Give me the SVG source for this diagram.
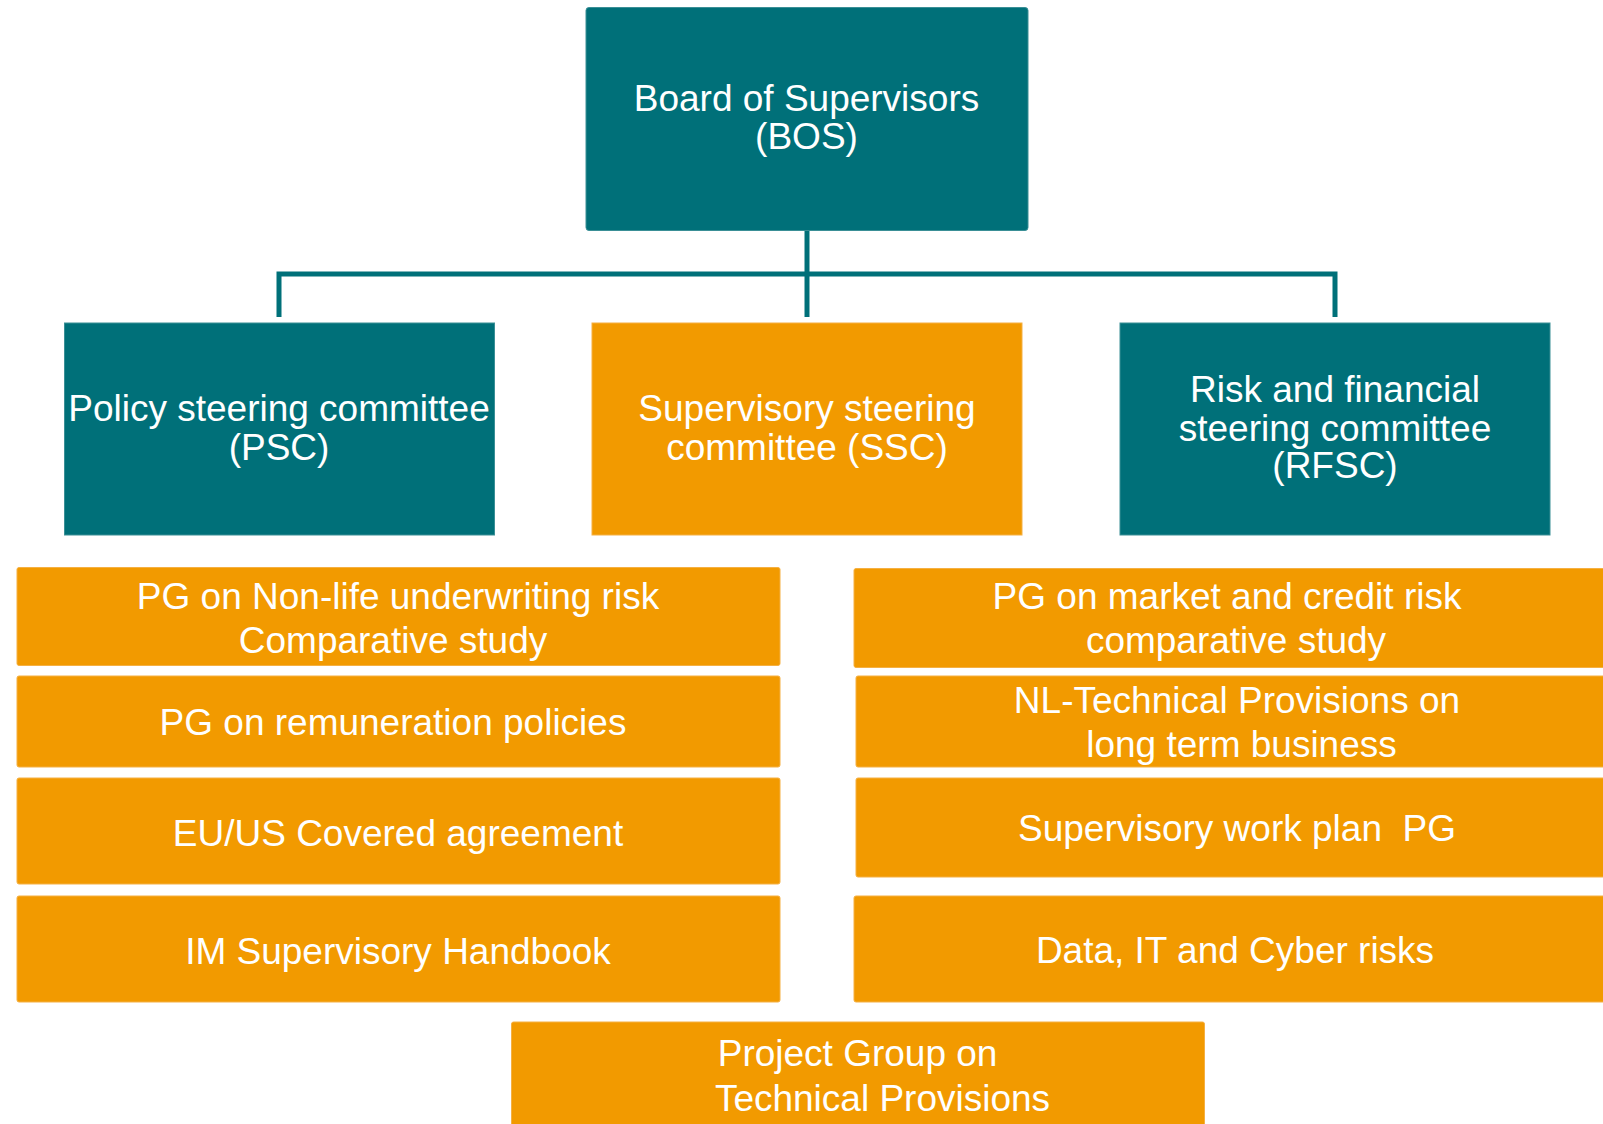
<svg xmlns="http://www.w3.org/2000/svg" width="1603" height="1124" viewBox="0 0 1603 1124">
<style>
.teal{fill:#007079;stroke:#3a8f96;stroke-width:1}
.orange{fill:#F29A00;stroke:#f5b042;stroke-width:1}
.t{font-family:"Liberation Sans",Arial,sans-serif;font-size:37px;fill:#ffffff;text-anchor:middle}
.conn{fill:none;stroke:#007079;stroke-width:5;stroke-linejoin:miter;stroke-linecap:butt}
</style>
<rect width="1603" height="1124" fill="#ffffff"/>
<g id="connectors">
<path class="conn" d="M279,317 V274 H1335 V317"/>
<path class="conn" d="M807,231 V317"/>
</g>
<g id="bos">
<rect class="teal" x="586" y="7.5" width="442" height="223" rx="3"/>
<text class="t" x="806.5" y="110.7">Board of Supervisors</text>
<text class="t" x="806.5" y="149.3">(BOS)</text>
</g>
<g id="psc">
<rect class="teal" x="64.5" y="323" width="430" height="212"/>
<text class="t" x="279" y="421">Policy steering committee</text>
<text class="t" x="279" y="460">(PSC)</text>
</g>
<g id="ssc">
<rect class="orange" x="592" y="323" width="430" height="212"/>
<text class="t" x="807" y="421">Supervisory steering</text>
<text class="t" x="807" y="460">committee (SSC)</text>
</g>
<g id="rfsc">
<rect class="teal" x="1120" y="323" width="430" height="212"/>
<text class="t" x="1335" y="402.3">Risk and financial</text>
<text class="t" x="1335" y="440.7">steering committee</text>
<text class="t" x="1335" y="478.3">(RFSC)</text>
</g>
<g id="pg-nonlife">
<rect class="orange" x="17" y="567.5" width="763" height="98" rx="2"/>
<text class="t" x="398" y="608.7">PG on Non-life underwriting risk</text>
<text class="t" x="393" y="653.3">Comparative study</text>
</g>
<g id="pg-remuneration">
<rect class="orange" x="17" y="676" width="763" height="91" rx="2"/>
<text class="t" x="393" y="735">PG on remuneration policies</text>
</g>
<g id="eu-us">
<rect class="orange" x="17" y="778" width="763" height="106" rx="2"/>
<text class="t" x="398" y="846">EU/US Covered agreement</text>
</g>
<g id="im-handbook">
<rect class="orange" x="17" y="896" width="763" height="106" rx="2"/>
<text class="t" x="398" y="964">IM Supervisory Handbook</text>
</g>
<g id="pg-market">
<rect class="orange" x="854" y="568.5" width="760" height="99" rx="2"/>
<text class="t" x="1227" y="609.3">PG on market and credit risk</text>
<text class="t" x="1236" y="653.3">comparative study</text>
</g>
<g id="nl-tp">
<rect class="orange" x="856" y="676" width="760" height="91" rx="2"/>
<text class="t" x="1237" y="713.3">NL-Technical Provisions on</text>
<text class="t" x="1241.5" y="756.7">long term business</text>
</g>
<g id="work-plan">
<rect class="orange" x="856" y="778" width="760" height="99" rx="2"/>
<text class="t" x="1237" y="841" xml:space="preserve">Supervisory work plan  PG</text>
</g>
<g id="data-it">
<rect class="orange" x="854" y="896" width="760" height="106" rx="2"/>
<text class="t" x="1235" y="963.3">Data, IT and Cyber risks</text>
</g>
<g id="pg-tp">
<rect class="orange" x="511.5" y="1022" width="693" height="120" rx="2"/>
<text class="t" x="857.6" y="1065.7">Project Group on</text>
<text class="t" x="882.5" y="1110.7">Technical Provisions</text>
</g>
</svg>
